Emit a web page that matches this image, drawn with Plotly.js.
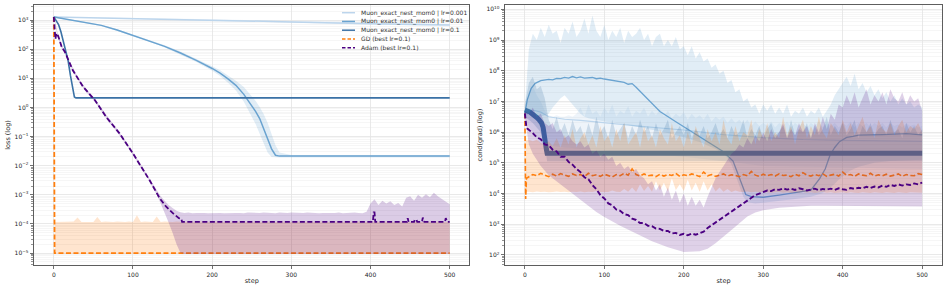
<!DOCTYPE html>
<html><head><meta charset="utf-8">
<script src="https://cdn.plot.ly/plotly-3.0.1.min.js"></script>
<style>html,body{margin:0;padding:0;background:#fff}#chart{width:947px;height:290px}</style>
</head><body><div id="chart"></div>
<script>
// ---------- shared step grid ----------
const steps5 = [0,5,10,15,20,25,30,35,40,45,50,55,60,65,70,75,80,85,90,95,100,105,110,115,120,125,130,135,140,145,150,155,160,165,170,175,180,185,190,195,200,205,210,215,220,225,230,235,240,245,250,255,260,265,270,275,280,285,290,295,300,305,310,315,320,325,330,335,340,345,350,355,360,365,370,375,380,385,390,395,400,405,410,415,420,425,430,435,440,445,450,455,460,465,470,475,480,485,490,495,500];
const xTicks = [0,100,200,300,400,500];

// ---------- LEFT: loss (values are log10 exponents) ----------
const lossMuon001Steps = [0,100,200,300,400,500];
const lossMuon001   = [3.11,3.06,3.00,2.94,2.88,2.83];
const lossMuon001Hi = [3.12,3.08,3.03,2.97,2.92,2.88];
const lossMuon001Lo = [3.10,3.04,2.97,2.91,2.85,2.79];

const lossMuon01Steps = [0,20,40,60,80,100,120,140,160,180,200,210,220,230,240,250,255,260,265,270,275,280,285,300,400,500];
const lossMuon01   = [3.11,3.02,2.93,2.82,2.66,2.48,2.30,2.10,1.87,1.62,1.34,1.18,0.98,0.76,0.45,0.06,-0.14,-0.38,-0.72,-1.08,-1.42,-1.64,-1.67,-1.67,-1.67,-1.67];
const lossMuon01Hi = [3.13,3.04,2.95,2.84,2.69,2.51,2.33,2.14,1.92,1.68,1.42,1.28,1.10,0.92,0.70,0.40,0.22,0.02,-0.22,-0.52,-0.90,-1.30,-1.55,-1.63,-1.63,-1.63];
const lossMuon01Lo = [3.09,3.00,2.91,2.80,2.63,2.45,2.27,2.06,1.82,1.56,1.26,1.08,0.85,0.58,0.20,-0.30,-0.58,-0.90,-1.25,-1.55,-1.70,-1.72,-1.72,-1.72,-1.72,-1.72];

const lossMuon1Steps = [0,3,6,9,12,15,18,21,22,24,26,28,30,500];
const lossMuon1 = [3.11,3.00,2.85,2.60,2.28,1.95,1.62,1.10,0.94,0.60,0.36,0.33,0.33,0.33];

const lossGdSteps = [0,1,500];
const lossGd = [3.11,-5.0,-5.0];
const lossGdBandSteps = [1].concat(steps5.slice(1));
const lossGdHi = [
 -3.93,-3.93,-3.92,-3.93,-3.93,-3.92,-3.78,-3.93,-3.93,-3.92,
 -3.93,-3.76,-3.93,-3.92,-3.93,-3.93,-3.92,-3.93,-3.93,-3.92,
 -3.93,-3.70,-3.93,-3.92,-3.93,-3.93,-3.74,-3.93,-3.92,-3.93,
 -3.93,-3.92,-3.93,-3.93,-3.92,-3.93,-3.93,-3.92,-3.93,-3.93,
 -3.93,-3.92,-3.93,-3.93,-3.92,-3.93,-3.93,-3.92,-3.93,-3.93,
 -3.93,-3.92,-3.93,-3.93,-3.92,-3.93,-3.93,-3.92,-3.93,-3.93,
 -3.93,-3.92,-3.93,-3.93,-3.92,-3.93,-3.93,-3.92,-3.93,-3.93,
 -3.93,-3.92,-3.93,-3.93,-3.92,-3.93,-3.93,-3.92,-3.93,-3.93,
 -3.93,-3.92,-3.93,-3.93,-3.92,-3.93,-3.93,-3.92,-3.93,-3.93,
 -3.93,-3.92,-3.93,-3.93,-3.92,-3.93,-3.93,-3.92,-3.93,-3.93,
 -3.93];
const lossGdLoSteps = [1,500];
const lossGdLo = [-5.02,-5.02];

const lossAdamSteps = [0,1,2,3,4,6,8,10,14,24,37,52,66,83,100,108,121,134,142,150,155,158,161,162,403,404,405,406,446,447,448,455,456,458,459,465,466,468,494,495,497,500];
const lossAdam = [3.11,2.60,2.35,2.50,2.55,2.42,2.25,2.08,1.91,1.28,0.71,0.25,-0.32,-0.89,-1.58,-1.93,-2.50,-3.13,-3.41,-3.62,-3.75,-3.80,-3.82,-3.93,-3.93,-3.60,-3.60,-3.93,-3.93,-3.80,-3.93,-3.93,-3.85,-3.85,-3.93,-3.93,-3.78,-3.93,-3.93,-3.80,-3.93,-3.93];
const lossAdamHi = [
 3.15,2.55,2.14,1.90,1.58,1.30,1.07,0.85,0.66,0.51,
 0.36,0.17,-0.03,-0.23,-0.42,-0.57,-0.74,-0.92,-1.12,-1.32,
 -1.53,-1.75,-1.96,-2.18,-2.40,-2.64,-2.86,-3.05,-3.20,-3.35,
 -3.45,-3.55,-3.60,-3.62,-3.61,-3.63,-3.62,-3.61,-3.62,-3.63,
 -3.62,-3.61,-3.62,-3.63,-3.62,-3.61,-3.62,-3.62,-3.63,-3.61,
 -3.62,-3.63,-3.62,-3.61,-3.62,-3.62,-3.63,-3.61,-3.62,-3.62,
 -3.61,-3.62,-3.63,-3.62,-3.61,-3.62,-3.62,-3.63,-3.62,-3.61,
 -3.62,-3.62,-3.61,-3.63,-3.62,-3.62,-3.61,-3.62,-3.63,-3.58,
 -3.30,-3.15,-3.35,-3.20,-3.30,-3.22,-3.35,-3.28,-3.40,-3.10,
 -3.05,-3.20,-3.00,-3.10,-2.98,-3.08,-2.93,-3.05,-3.15,-3.25,
 -3.32];
const lossAdamLoSteps = [0,5,10,15,20,25,30,35,40,45,50,55,60,65,70,75,80,85,90,95,100,105,110,115,120,125,130,135,140,145,150,155,160,165,500];
const lossAdamLo = [3.07,2.41,2.02,1.80,1.48,1.18,0.97,0.75,0.56,0.41,0.26,0.07,-0.13,-0.33,-0.52,-0.67,-0.84,-1.02,-1.22,-1.42,-1.63,-1.85,-2.06,-2.28,-2.50,-2.76,-3.00,-3.30,-3.60,-3.95,-4.30,-4.70,-5.00,-5.03,-5.03];

// ---------- RIGHT: cond(grad) (log10 exponents) ----------
const condMuon001Steps = [0,5,10,20,30,50,70,100,150,200,250,300,350,400,450,500];
const condMuon001 = [6.60,6.68,6.72,6.65,6.50,6.42,6.38,6.30,6.18,6.07,5.92,5.82,5.76,5.73,5.71,5.70];
const condMuon001Hi = [
 6.7,7.3,7.5,7.2,7.0,6.7,6.55,6.5,6.55,6.5,
 6.5,6.55,6.5,6.6,6.8,6.5,6.9,6.6,6.7,6.5,
 6.8,6.6,6.9,6.5,6.7,6.6,6.85,6.5,6.7,6.6,
 6.8,6.5,6.7,6.55,6.75,6.5,6.7,6.45,6.6,6.5,
 6.65,6.4,6.6,6.45,6.55,6.4,6.6,6.35,6.5,6.4,
 6.5,6.3,6.45,6.3,6.4,6.25,6.4,6.2,6.35,6.2,
 6.3,6.2,6.35,6.15,6.3,6.2,6.35,6.15,6.3,6.2,
 6.3,6.15,6.3,6.2,6.35,6.15,6.3,6.2,6.3,6.15,
 6.3,6.2,6.35,6.15,6.3,6.2,6.3,6.15,6.3,6.2,
 6.3,6.15,6.3,6.2,6.25,6.15,6.3,6.2,6.25,6.15,
 6.2];
const condMuon001LoSteps = [0,10,20,50,100,150,200,250,300,400,500];
const condMuon001Lo = [6.4,6.0,5.6,5.5,5.4,5.3,5.2,5.05,4.9,4.85,4.8];

const condMuon01Steps = [0,3,8,13,20,25,30,35,40,45,50,55,60,65,70,75,80,85,90,95,100,105,110,115,120,125,130,135,140,145,150,155,170,190,210,230,250,262,268,272,278,285,300,320,340,360,371,378,384,390,396,405,413,420,450,480,500];
const condMuon01 = [6.61,7.05,7.43,7.59,7.68,7.70,7.72,7.70,7.75,7.74,7.78,7.76,7.81,7.77,7.80,7.76,7.76,7.78,7.74,7.76,7.73,7.71,7.70,7.67,7.64,7.62,7.56,7.58,7.46,7.33,7.20,7.05,6.67,6.34,6.02,5.69,5.36,5.06,4.66,4.33,3.97,3.90,3.88,3.95,4.03,4.11,4.49,4.80,5.25,5.50,5.69,5.83,5.86,5.90,5.92,5.95,5.91];
const condMuon01Hi = [
 6.8,8.7,9.2,9.0,9.4,9.1,9.5,9.2,9.3,8.9,
 9.4,9.2,9.6,9.1,9.3,9.7,9.2,9.8,9.3,9.1,
 9.5,9.0,9.3,9.1,9.4,8.9,9.3,9.1,9.2,9.4,
 9.0,9.2,8.8,9.1,9.2,8.8,9.0,8.8,9.1,8.7,
 8.8,8.5,8.8,8.4,8.6,8.3,8.4,8.1,8.2,7.9,
 8.0,7.6,7.7,7.3,7.4,7.0,7.1,6.8,6.9,6.6,
 6.9,6.7,6.9,6.6,6.8,6.6,6.9,6.5,6.7,6.6,
 6.8,6.5,6.7,6.6,6.8,6.5,6.7,6.9,7.2,7.4,
 7.6,7.8,7.5,7.9,7.4,7.6,7.3,7.5,7.2,7.4,
 7.1,7.3,7.0,7.2,6.9,7.1,6.9,7.0,6.8,6.9,
 6.8];
const condMuon01LoSteps = [0,5,10,15,20,25,30,35,40,45,50,55,60,65,70,75,80,90,100,120,140,160,180,200,220,240,250,255,260,265,270,275,280,290,300,320,340,360,370,375,380,385,390,395,400,405,410,420,430,440,460,480,500];
const condMuon01Lo = [6.5,6.6,6.7,6.6,6.5,6.55,6.6,6.8,6.95,7.1,7.2,7.05,6.9,6.75,6.6,6.5,6.45,6.4,6.35,6.28,6.18,6.08,5.97,5.83,5.68,5.45,5.3,5.15,4.95,4.6,4.25,3.9,3.72,3.68,3.7,3.75,3.82,3.9,3.97,4.02,4.1,4.2,4.32,4.45,4.57,4.67,4.75,4.87,4.94,5.0,5.06,5.09,5.1];

const condMuon1Steps = [0,3,6,9,12,15,18,21,23,25,26,27,28,500];
const condMuon1 = [6.72,6.70,6.66,6.60,6.55,6.48,6.40,6.30,6.15,5.90,5.70,5.45,5.31,5.31];
const condMuon1Hi = [
 6.9,7.6,7.8,7.4,7.5,7.1,6.4,6.1,6.5,6.0,
 6.3,5.9,6.4,6.0,6.2,5.8,6.3,5.9,6.5,6.0,
 6.2,5.8,6.4,5.9,6.1,6.3,5.8,6.2,5.9,6.4,
 6.0,6.2,5.8,6.3,5.9,6.1,6.4,5.8,6.0,6.2,
 5.9,6.3,5.8,6.1,5.9,6.2,5.8,6.0,6.3,5.9,
 6.1,5.8,6.2,5.9,6.0,6.4,5.8,6.1,5.9,6.2,
 5.8,6.1,6.3,5.9,6.0,6.2,5.8,6.4,5.9,6.1,
 6.0,6.3,5.8,6.2,5.9,6.1,6.5,5.9,6.2,6.0,
 6.3,5.9,6.1,6.4,5.8,6.2,6.0,6.3,5.9,6.1,
 6.2,5.9,6.4,6.0,6.1,5.8,6.3,6.0,6.2,5.9,
 6.1];
const condMuon1LoSteps = [0,10,20,25,28,500];
const condMuon1Lo = [6.5,6.3,6.0,5.6,5.05,5.05];

const condGdSteps = [0,1,2].concat(steps5.slice(1));
const condGd = [6.61,3.82,4.50,
 4.55,4.62,4.58,4.66,4.60,4.55,4.63,4.57,4.65,4.60,
 4.56,4.64,4.59,4.62,4.55,4.66,4.58,4.61,4.56,4.63,
 4.59,4.54,4.62,4.58,4.66,4.60,4.80,4.62,4.57,4.64,
 4.58,4.60,4.55,4.63,4.57,4.62,4.59,4.66,4.56,4.61,
 4.58,4.64,4.60,4.55,4.70,4.58,4.62,4.56,4.60,4.64,
 4.57,4.61,4.59,4.55,4.62,4.58,4.72,4.60,4.56,4.63,
 4.58,4.62,4.57,4.64,4.59,4.60,4.55,4.63,4.58,4.68,
 4.60,4.57,4.62,4.58,4.64,4.56,4.60,4.63,4.57,4.70,
 4.59,4.62,4.56,4.64,4.60,4.58,4.66,4.57,4.61,4.58,
 4.63,4.57,4.60,4.64,4.56,4.62,4.59,4.58,4.65,4.62];
const condGdBandSteps = [0,1].concat(steps5.slice(1));
const condGdHi = [6.61,5.75,
 5.75,5.7,5.75,5.65,5.6,5.7,5.55,5.8,5.5,5.9,
 5.6,6.1,5.5,5.8,6.0,5.6,5.9,5.5,6.2,5.7,
 5.9,5.5,6.1,5.7,6.3,5.6,5.8,6.0,5.5,6.2,
 5.7,5.9,5.5,6.1,5.8,5.6,6.3,5.7,5.9,5.5,
 6.0,5.6,6.2,5.8,5.5,6.1,5.7,6.0,5.6,6.4,
 5.8,5.6,6.2,5.7,6.0,5.9,6.4,5.6,6.1,5.8,
 6.3,5.7,6.0,5.8,6.5,5.9,6.2,5.6,6.1,6.4,
 5.8,6.2,5.9,6.5,6.0,5.8,6.3,6.1,5.9,6.4,
 6.0,6.3,5.9,6.2,6.5,6.0,6.2,5.8,6.4,6.1,
 6.0,6.3,5.9,6.2,6.4,6.0,6.2,6.1,6.3,6.0];
const condGdLo = [6.61,4.05,
 4.06,4.04,4.07,4.05,4.06,4.04,4.05,4.07,4.05,4.06,
 4.04,4.06,4.05,4.07,4.04,4.06,4.05,4.08,4.05,4.06,
 4.05,4.10,4.06,4.05,4.15,4.06,4.20,4.05,4.30,4.08,
 4.25,4.06,4.40,4.10,4.35,4.07,4.50,4.12,4.30,4.08,
 4.45,4.10,4.35,4.06,4.40,4.10,4.30,4.07,4.20,4.06,
 4.15,4.05,4.10,4.06,4.05,4.07,4.04,4.06,4.05,4.04,
 4.05,4.03,4.04,4.05,4.03,4.04,4.02,4.04,4.03,4.05,
 4.03,4.04,4.02,4.03,4.05,4.03,4.04,4.02,4.03,4.04,
 4.02,4.04,4.03,4.02,4.04,4.03,4.02,4.04,4.03,4.02,
 4.04,4.03,4.02,4.04,4.03,4.02,4.04,4.03,4.02,4.03];

const condAdamSteps = [0,1,2,3].concat(steps5.slice(1));
const condAdam = [6.61,6.20,6.15,6.12,
 6.08,5.97,5.83,5.77,5.60,5.57,5.43,5.37,5.20,5.20,
 5.03,4.94,4.80,4.70,4.53,4.47,4.28,4.14,3.95,3.84,
 3.68,3.62,3.48,3.44,3.33,3.30,3.18,3.14,3.04,3.04,
 2.95,2.94,2.86,2.85,2.78,2.78,2.70,2.72,2.65,2.69,
 2.64,2.70,2.66,2.70,2.76,2.88,2.97,3.05,3.15,3.25,
 3.33,3.43,3.52,3.60,3.70,3.79,3.88,3.95,4.00,4.06,
 4.10,4.08,4.14,4.12,4.17,4.13,4.16,4.12,4.17,4.14,
 4.10,4.13,4.16,4.11,4.15,4.13,4.16,4.12,4.17,4.14,
 4.12,4.18,4.15,4.19,4.17,4.22,4.18,4.23,4.20,4.26,
 4.22,4.28,4.25,4.30,4.26,4.30,4.28,4.33,4.30,4.36];
const condAdamHi = [
 6.7,6.6,6.8,6.5,6.6,6.3,6.2,6.3,6.0,6.1,
 5.8,5.9,5.7,5.6,5.7,5.5,5.6,5.3,5.4,5.2,
 5.3,5.1,5.2,4.9,5.0,4.8,4.9,4.7,4.8,4.6,
 4.5,4.3,4.4,4.1,4.3,3.9,4.2,3.8,4.1,3.7,
 4.0,3.6,3.9,3.6,3.8,3.55,3.9,4.2,4.5,4.7,
 4.9,5.1,5.3,5.4,5.6,5.5,5.8,5.6,5.9,5.7,
 6.0,5.7,6.1,5.8,6.0,6.3,5.8,6.1,5.9,6.3,
 6.0,6.2,5.8,6.3,6.0,6.5,6.1,6.6,6.4,6.9,
 6.8,7.2,6.9,7.3,6.8,7.1,7.4,6.9,7.2,7.0,
 7.3,6.9,7.4,7.1,7.0,7.3,6.9,7.2,7.0,7.1,
 6.7];
const condAdamLoSteps = [0,5,10,20,30,40,50,60,70,80,90,100,120,140,160,180,200,220,230,240,250,260,270,280,290,300,320,340,360,380,400,450,500];
const condAdamLo = [6.5,5.6,5.3,4.9,4.6,4.4,4.2,4.0,3.8,3.6,3.4,3.24,2.95,2.7,2.45,2.25,2.1,2.12,2.2,2.38,2.58,2.81,3.03,3.25,3.38,3.46,3.54,3.58,3.6,3.6,3.6,3.6,3.58];

const legendNames = ['Muon_exact_nest_mom0 | lr=0.001','Muon_exact_nest_mom0 | lr=0.01','Muon_exact_nest_mom0 | lr=0.1','GD (best lr=0.1)','Adam (best lr=0.1)'];
const lossDecades = [-5,-4,-3,-2,-1,0,1,2,3];
const condDecades = [2,3,4,5,6,7,8,9,10];

// ---------- drawing ----------
const FONT = 'DejaVu Sans';
const COL = {m001:'#bcd5ec', m01:'#6aa3d0', m1:'#3b72a6', gd:'#ff7f0e', adam:'#4b0082'};
const DASH = '5px,2.5px';
const P = a => a.map(v => Math.pow(10, v));
function rgba(hex, a){const n=parseInt(hex.slice(1),16);return `rgba(${n>>16&255},${n>>8&255},${n&255},${a})`;}
const traces = [];
function band(ax, xl, yl, xu, yu, color, alpha){
  traces.push({x:xl, y:P(yl), xaxis:ax[0], yaxis:ax[1], mode:'lines', line:{width:0, color:'rgba(0,0,0,0)'}, hoverinfo:'skip', showlegend:false});
  traces.push({x:xu, y:P(yu), xaxis:ax[0], yaxis:ax[1], mode:'lines', fill:'tonexty', fillcolor:rgba(color,alpha), line:{width:0, color:'rgba(0,0,0,0)'}, hoverinfo:'skip', showlegend:false});
}
function line(ax, x, y, color, width, dash, name){
  traces.push({x:x, y:P(y), xaxis:ax[0], yaxis:ax[1], mode:'lines', name:name, line:{color:color, width:width, dash:dash||'solid'}, showlegend:false});
}
const L = ['x','y'], R = ['x2','y2'];
// left
band(L, lossMuon001Steps, lossMuon001Lo, lossMuon001Steps, lossMuon001Hi, COL.m001, 0.25);
line(L, lossMuon001Steps, lossMuon001, COL.m001, 1.5, null, legendNames[0]);
band(L, lossMuon01Steps, lossMuon01Lo, lossMuon01Steps, lossMuon01Hi, COL.m01, 0.2);
line(L, lossMuon01Steps, lossMuon01, COL.m01, 1.5, null, legendNames[1]);
line(L, lossMuon1Steps, lossMuon1, COL.m1, 1.6, null, legendNames[2]);
band(L, lossGdLoSteps, lossGdLo, lossGdBandSteps, lossGdHi, COL.gd, 0.2);
line(L, lossGdSteps, lossGd, COL.gd, 1.8, DASH, legendNames[3]);
band(L, lossAdamLoSteps, lossAdamLo, steps5, lossAdamHi, COL.adam, 0.2);
line(L, lossAdamSteps, lossAdam, COL.adam, 1.8, DASH, legendNames[4]);
// right
band(R, condMuon001LoSteps, condMuon001Lo, steps5, condMuon001Hi, COL.m001, 0.25);
line(R, condMuon001Steps, condMuon001, COL.m001, 1.2, null, legendNames[0]);
band(R, condMuon01LoSteps, condMuon01Lo, steps5, condMuon01Hi, COL.m01, 0.2);
line(R, condMuon01Steps, condMuon01, COL.m01, 1.3, null, legendNames[1]);
band(R, condMuon1LoSteps, condMuon1Lo, steps5, condMuon1Hi, COL.m1, 0.2);
line(R, condMuon1Steps, condMuon1, COL.m1, 5, null, legendNames[2]);
band(R, condGdBandSteps, condGdLo, condGdBandSteps, condGdHi, COL.gd, 0.2);
line(R, condGdSteps, condGd, COL.gd, 1.6, DASH, legendNames[3]);
band(R, condAdamLoSteps, condAdamLo, steps5, condAdamHi, COL.adam, 0.18);
line(R, condAdamSteps, condAdam, COL.adam, 1.9, DASH, legendNames[4]);

function minorVals(decs){const out=[];for(let i=0;i<decs.length;i++){for(let m=2;m<=9;m++)out.push(m*Math.pow(10,decs[i]));}return out;}
function supTxt(d){return '10<sup>'+(d<0?'\u2212'+(-d):d)+'</sup>';}
const tickFont = {family:FONT, size:6, color:'#262626'};
const titleFont = {family:FONT, size:6.5, color:'#262626'};
const base = {showline:true, mirror:true, linecolor:'#4d4d4d', linewidth:0.9, ticks:'outside', ticklen:3.5, tickwidth:0.8, tickcolor:'#4d4d4d', tickfont:tickFont, showgrid:true, gridcolor:'#e4e4e4', gridwidth:0.8, zeroline:false, automargin:false};
const minorBase = {ticks:'outside', ticklen:2, tickwidth:0.6, tickcolor:'#4d4d4d', showgrid:true, gridcolor:'#f0f0f0', gridwidth:0.6};
const yDom = [25/290, 285/290];

const layout = {
  width:947, height:290, margin:{l:0,r:0,t:0,b:0}, paper_bgcolor:'#fff', plot_bgcolor:'#fff', showlegend:false,
  font:{family:FONT, size:6, color:'#262626'},
  xaxis:Object.assign({}, base, {domain:[34/947, 469.5/947], range:[-25,525], tickmode:'array', tickvals:xTicks, anchor:'y', title:{text:'step', font:titleFont, standoff:1}}),
  yaxis:Object.assign({}, base, {domain:yDom, type:'log', range:[-5.41,3.52], tickmode:'array', tickvals:P(lossDecades), ticktext:lossDecades.map(supTxt), anchor:'x', minor:Object.assign({tickmode:'array', tickvals:minorVals([-6,-5,-4,-3,-2,-1,0,1,2,3])}, minorBase), title:{text:'loss (log)', font:titleFont, standoff:3}}),
  xaxis2:Object.assign({}, base, {domain:[505/947, 942/947], range:[-25,525], tickmode:'array', tickvals:xTicks, anchor:'y2', title:{text:'step', font:titleFont, standoff:1}}),
  yaxis2:Object.assign({}, base, {domain:yDom, type:'log', range:[1.674,10.14], tickmode:'array', tickvals:P(condDecades), ticktext:condDecades.map(supTxt), anchor:'x2', minor:Object.assign({tickmode:'array', tickvals:minorVals([1,2,3,4,5,6,7,8,9,10])}, minorBase), title:{text:'cond(grad) (log)', font:titleFont, standoff:3}}),
  shapes:[], annotations:[]
};
// legend (top-right of left panel)
const legCols = [COL.m001, COL.m01, COL.m1, COL.gd, COL.adam];
const legDash = ['solid','solid','solid','3.5px,2px','3.5px,2px'];
for(let i=0;i<legendNames.length;i++){
  const py = 12.7 + 8.75*i;
  layout.shapes.push({type:'line', xref:'paper', yref:'paper', x0:342/947, x1:355/947, y0:1-py/290, y1:1-py/290, line:{color:legCols[i], width:1.5, dash:legDash[i]}});
  layout.annotations.push({xref:'paper', yref:'paper', x:359/947, y:1-py/290, xanchor:'left', yanchor:'middle', text:legendNames[i], showarrow:false, font:{family:FONT, size:6, color:'#333'}});
}
Plotly.newPlot('chart', traces, layout, {displayModeBar:false, staticPlot:true});
</script></body></html>
